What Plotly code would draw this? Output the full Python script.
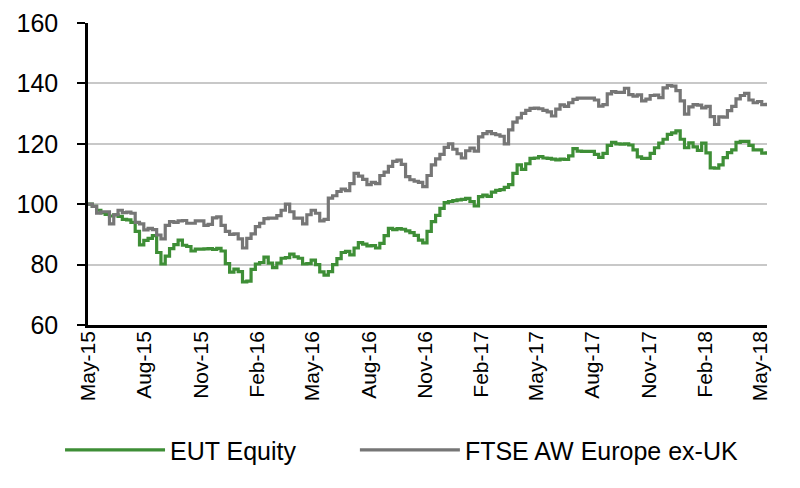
import pandas as pd
import plotly.graph_objects as go

# Weekly observations (Fridays) starting 1 May 2015
start_date = "2015-05-01"

eut_equity = [
    100, 99.3, 98, 97.2, 96.6, 96.1, 96.5, 96, 95, 94.8,
    94, 91, 86.5, 88, 88.7, 89.6, 84, 80.2, 82.8, 85.3,
    86.6, 88.1, 86.4, 86, 84.5, 85.1, 85.1, 85.2, 85.3, 85,
    85.4, 84.5, 80.3, 77.5, 78.5, 77.7, 74.3, 74.5, 78.4, 80.2,
    80.7, 82.5, 80.5, 79, 80.5, 82.1, 82.3, 83.5, 82.6, 82.1,
    80.2, 80.3, 81.5, 80, 77.6, 76.5, 77.7, 80, 82, 84,
    84.4, 83.2, 85.5, 87.3, 86.8, 86.2, 86.3, 85.5, 87, 89.6,
    92, 91.6, 91.9, 91.7, 91.2, 90.6, 89.7, 88.1, 87.2, 91,
    94.2, 96.3, 98.6, 100.5, 100.9, 101.2, 101.4, 101.6, 101.9, 100.9,
    99.4, 102.5, 103, 102.6, 104, 104.6, 104.8, 105.6, 106.5, 110.2,
    113, 111.5, 113.4, 115.2, 115.3, 115.8, 115.3, 115.2, 114.9, 114.7,
    114.9, 114.8, 116, 118.4, 117.6, 117.5, 117.5, 117.5, 116.5, 115.5,
    116.8, 119.5, 120.5, 120, 119.9, 120, 119.6, 118, 115.7, 115.2,
    115.2, 116.8, 118.7, 120.2, 121.5, 123.1, 123.6, 124.3, 121.5, 118.7,
    120.3, 119, 117.8, 120.2, 117, 112, 111.9, 113, 115.4, 117.1,
    118, 120.5, 120.8, 120.8, 119.5, 118, 118, 116.9, 117.5,
]

ftse_aw_europe_ex_uk = [
    100, 99.3, 97, 97.5, 97.5, 93.5, 96.5, 98, 97.2, 97.4,
    97, 94, 93.5, 91.5, 92, 91.6, 89.8, 88.5, 93, 94.2,
    94, 94.5, 94.6, 93.7, 93.7, 94.5, 94.5, 93, 93.3, 95.5,
    95.8, 93, 91, 90, 90.2, 88.5, 85.5, 88.7, 90.2, 92.6,
    93.7, 95.2, 95.4, 95.4, 96.2, 98, 100, 97.5, 95.4, 95.4,
    93.5, 96.5, 98, 97, 94.5, 95, 102, 102.8, 104.2, 105,
    104.5, 106.8, 110.2, 109.3, 108.2, 106.5, 107.2, 106.8, 109.5, 110.6,
    112.5, 114.2, 114.6, 113.2, 109.1, 108.1, 107.6, 107.2, 105.8, 109.5,
    113, 115, 116.5, 118.8, 120, 118.2, 116.7, 115.3, 117.7, 118.6,
    117.6, 122.3, 123.4, 124, 123.4, 123, 122.5, 120, 124.6, 127.2,
    128.6, 130.1, 131.1, 131.7, 131.8, 131.6, 131.1, 130.6, 129.2, 131.5,
    132.9, 132.4, 133.6, 134.7, 135.1, 135.1, 135.1, 135.1, 134.5, 132.5,
    133, 136.5, 137.3, 137, 137, 138.4, 136.3, 135.8, 136.2, 134.2,
    134.8, 136, 136.1, 135.3, 138.5, 139.3, 139.1, 137.6, 134.2, 129.8,
    132.2, 133, 132.8, 131.9, 132.4, 129, 126.4, 128.9, 128.8, 131,
    132.4, 134.9, 136, 136.7, 134.5, 133.6, 134, 133, 133.6,
]

dates = pd.date_range(start_date, periods=len(eut_equity), freq="7D")

tick_dates = [
    "2015-05-01", "2015-08-01", "2015-11-01", "2016-02-01", "2016-05-01",
    "2016-08-01", "2016-11-01", "2017-02-01", "2017-05-01", "2017-08-01",
    "2017-11-01", "2018-02-01", "2018-05-01",
]
tick_labels = [
    "May-15", "Aug-15", "Nov-15", "Feb-16", "May-16", "Aug-16", "Nov-16",
    "Feb-17", "May-17", "Aug-17", "Nov-17", "Feb-18", "May-18",
]

y_ticks = [60, 80, 100, 120, 140, 160]

GREEN = "#3E8E36"
GREY = "#767676"
FONT = "Liberation Sans, Arial, sans-serif"

fig = go.Figure()
fig.add_trace(go.Scatter(
    x=dates, y=eut_equity, name="EUT Equity", mode="lines",
    line=dict(color=GREEN, width=3.2, shape="hv"), legend="legend",
))
fig.add_trace(go.Scatter(
    x=dates, y=ftse_aw_europe_ex_uk, name="FTSE AW Europe ex-UK", mode="lines",
    line=dict(color=GREY, width=3.2, shape="hv"), legend="legend2",
))

legend_common = dict(
    orientation="h", xref="container", yref="container",
    xanchor="left", yanchor="middle", y=0.079,
    font=dict(family=FONT, size=25, color="black"),
    itemwidth=100, bgcolor="rgba(0,0,0,0)", borderwidth=0,
)

fig.update_layout(
    width=792, height=480,
    margin=dict(l=80, r=33, t=15, b=162.5, autoexpand=False),
    paper_bgcolor="white", plot_bgcolor="white",
    font=dict(family=FONT, color="black"),
    showlegend=True,
    legend=dict(x=0.0657, **legend_common),
    legend2=dict(x=0.438, **legend_common),
    xaxis=dict(
        type="date",
        range=["2015-05-01", "2018-05-12 14:00"],
        tickmode="array", tickvals=tick_dates, ticktext=tick_labels,
        tickangle=-90,
        tickfont=dict(family=FONT, size=21, color="black"),
        showgrid=False, zeroline=False,
        showline=True, linecolor="black", linewidth=2.5,
        ticks="", automargin=False, ticklabelstandoff=-5,
    ),
    yaxis=dict(
        range=[60, 160], tickmode="array", tickvals=y_ticks,
        tickfont=dict(family=FONT, size=25, color="black"),
        showgrid=True, gridcolor="#C8C8C8", gridwidth=2,
        zeroline=False,
        showline=True, linecolor="black", linewidth=2.5,
        ticks="outside", ticklen=8, tickwidth=2, tickcolor="black",
        ticklabelstandoff=14, automargin=False,
    ),
)

fig.write_html("out.html")
